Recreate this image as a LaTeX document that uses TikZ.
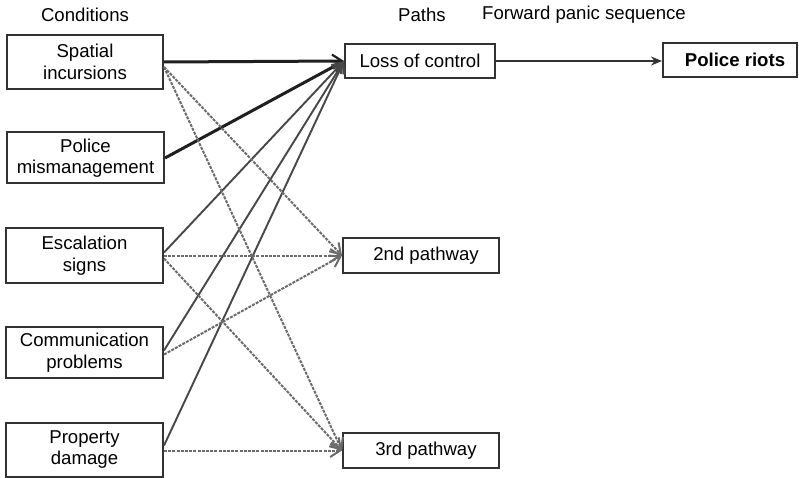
\documentclass[tikz,border=0pt]{standalone}
\usepackage{fontspec}
\setmainfont{Liberation Sans}
\usetikzlibrary{arrows.meta}
\begin{document}
\begin{tikzpicture}[x=1pt,y=-1pt,
  font=\fontsize{18.6}{21.5}\selectfont,
  box/.style={draw=black!80,line width=2pt,rectangle,inner sep=0pt,align=center},
  lbl/.style={inner sep=0pt,anchor=center},
  thickarr/.style={draw=black!88,line width=3pt,-{Straight Barb[length=10pt,width=13pt,line width=2.2pt]}},
  midarr/.style={draw=black!72,line width=1.9pt,-{Straight Barb[length=10pt,width=13pt,line width=1.9pt]}},
  dasharr/.style={draw=black!58,line width=2pt,dash pattern=on 3pt off 1.2pt,-{Straight Barb[length=10pt,width=13pt,line width=2pt,sep=0pt]}},
  riotarr/.style={draw=black!80,line width=1.9pt,-{Stealth[length=11pt,width=9pt]}}
]
\useasboundingbox (0,0) rectangle (799,478);
\fill[white] (0,0) rectangle (799,478);

% headings
\node[lbl] (hc) at (85,15) {Conditions};
\node[lbl] (hp) at (422,15) {Paths};
\node[lbl] (hf) at (584,15) {Forward panic sequence};

% condition boxes
\node[box,minimum width=156pt,minimum height=54pt] (sp) at (85,62) {Spatial\\incursions};
\node[box,minimum width=157pt,minimum height=51pt] (pm) at (85.5,158) {Police\\mismanagement};
\node[box,minimum width=157pt,minimum height=55pt] (es) at (84.5,255.5) {Escalation\\signs};
\node[box,minimum width=157pt,minimum height=51pt] (cp) at (84.5,352.5) {Communication\\problems};
\node[box,minimum width=157pt,minimum height=54pt] (pd) at (84.5,449.5) {Property\\damage};

% path boxes
\node[box,minimum width=150pt,minimum height=34pt] (lc) at (420,61) {Loss of control};
\node[box,minimum width=156pt,minimum height=35pt] (p2) at (421,255.5) {\hspace*{10pt}2nd pathway};
\node[box,minimum width=156pt,minimum height=35pt] (p3) at (421,450.5) {\hspace*{10pt}3rd pathway};
\node[box,minimum width=134pt,minimum height=34pt] (pr) at (730,60) {\hspace*{10pt}\textbf{Police riots}};

% solid connectors to Loss of control
\draw[thickarr] (sp.east) -- (lc.west);
\draw[thickarr] (pm.east) -- (lc.west);
\draw[midarr] ([yshift=3pt]es.east) -- (lc.west);
\draw[midarr] ([yshift=2pt]cp.east) -- (lc.west);
\draw[midarr] ([yshift=4pt]pd.east) -- (lc.west);

% dashed connectors
\draw[dasharr] ([yshift=-5pt]sp.east) -- (p2.west);
\draw[dasharr] ([yshift=-5pt]sp.east) -- (p3.west);
\draw[dasharr] (es.east) -- (p2.west);
\draw[dasharr] ([yshift=-3pt]es.east) -- (p3.west);
\draw[dasharr] ([yshift=-2pt]cp.east) -- (p2.west);
\draw[dasharr] ([yshift=-1pt]pd.east) -- (p3.west);

% forward sequence
\draw[riotarr] (lc.east) -- (pr.west |- lc.east);
\end{tikzpicture}
\end{document}
